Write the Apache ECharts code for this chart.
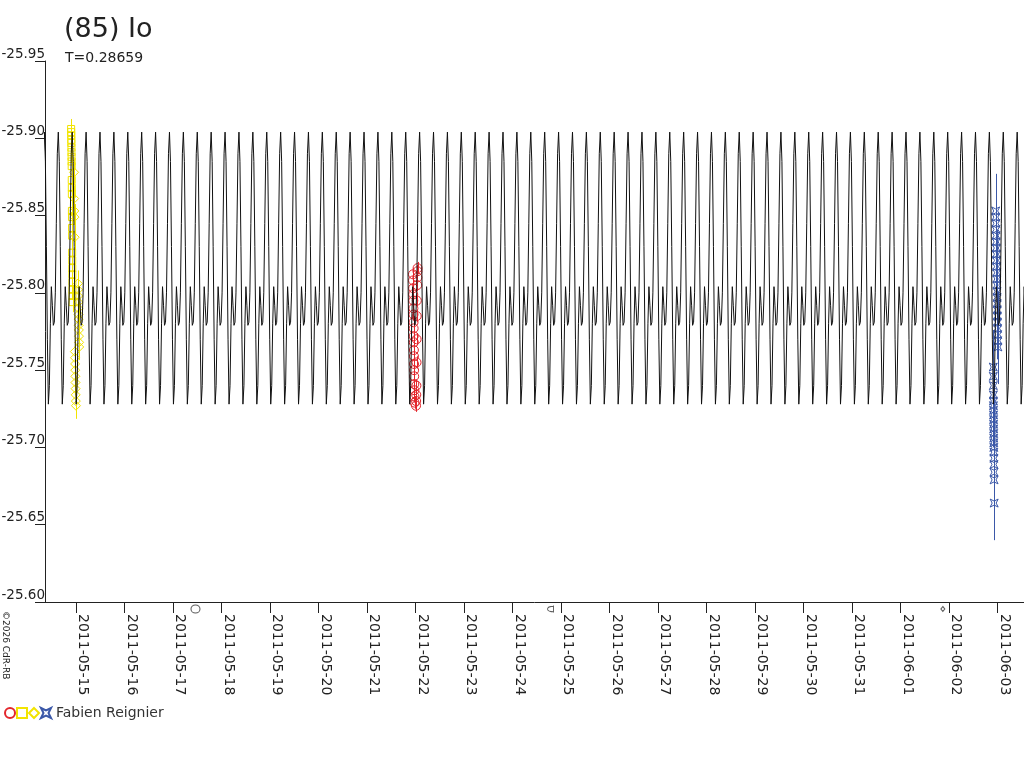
<!DOCTYPE html>
<html><head><meta charset="utf-8">
<script src="https://cdn.jsdelivr.net/npm/echarts@6.0.0/dist/echarts.min.js"></script>
<style>html,body{margin:0;padding:0;background:#fff}#c{width:1024px;height:768px}</style>
</head><body><div id="c"></div>
<script>
// ---- tick labels / axis ----
const xTickLabels = ['2011-05-15','2011-05-16','2011-05-17','2011-05-18','2011-05-19','2011-05-20','2011-05-21',
  '2011-05-22','2011-05-23','2011-05-24','2011-05-25','2011-05-26','2011-05-27','2011-05-28','2011-05-29',
  '2011-05-30','2011-05-31','2011-06-01','2011-06-02','2011-06-03'];
const xStart = '2011-05-14T08:40:00Z';
const xEnd = '2011-06-03T13:13:00Z';
const yMin = -25.95, yMax = -25.60, yStep = 0.05;

// ---- model lightcurve (one rotation), period from the title ----
const modelPeriod = 0.28659; // days
const modelEpoch = '2011-05-14T15:15:00Z'; // a brightest point of the model
const modelCycle = [-25.904,-25.885,-25.830,-25.770,-25.728,-25.740,-25.780,
  -25.804,-25.792,-25.779,-25.781,-25.800,-25.845,-25.890];

// ---- observations (UT hours counted from the night's date) ----
const yellowSquareNight = '2011-05-14';
const yellowSquareHours = [21.60,21.63,21.66,21.69,21.72,21.75,21.78,21.81,21.84,21.87,21.90,21.93,21.96,
  21.99,22.02,22.05,22.08,22.11,22.14,22.17,22.20,22.23,22.26,22.29,22.32];
const yellowSquareMags = [-25.906,-25.904,-25.902,-25.899,-25.897,-25.894,-25.891,-25.888,-25.885,-25.882,
  -25.873,-25.868,-25.864,-25.853,-25.849,-25.842,-25.837,-25.826,-25.821,-25.816,-25.812,-25.807,-25.802,-25.798,-25.794];
const yellowSquareErr = 0.0065;

const yellowDiamondNight = '2011-05-14';
const yellowDiamondHours = [23.05,23.12,23.20,23.27,23.35,
  24.95,25.01,25.07,25.13,25.19,25.25,25.31,25.37,25.43,25.49,25.55,25.61,
  23.45,23.51,23.57,23.63,23.69,23.75,23.81,23.87,23.93,23.99];
const yellowDiamondMags = [-25.878,-25.861,-25.853,-25.849,-25.836,
  -25.806,-25.802,-25.798,-25.794,-25.790,-25.786,-25.783,-25.779,-25.776,-25.772,-25.768,-25.765,
  -25.762,-25.758,-25.754,-25.750,-25.746,-25.742,-25.738,-25.734,-25.730,-25.727];
const yellowDiamondErr = 0.0085;

const redNight = '2011-05-21';
const redHours = [22.80,22.84,22.88,22.92,22.96,23.00,23.04,23.08,23.12,23.16,23.20,23.24,23.28,23.32,23.36,
  23.40,23.44,23.48,23.52,23.56,24.30,24.36,24.42,24.48,24.55,24.60,24.65,24.70,24.90,24.96,25.02,25.08];
const redMags = [-25.812,-25.808,-25.803,-25.799,-25.795,-25.790,-25.786,-25.781,-25.777,-25.772,-25.768,
  -25.763,-25.759,-25.754,-25.750,-25.746,-25.741,-25.737,-25.733,-25.729,-25.727,-25.730,-25.734,-25.740,
  -25.755,-25.770,-25.785,-25.795,-25.805,-25.810,-25.814,-25.816];
const redErr = 0.004;

const blueNight = '2011-06-02';
const blueHours = [22.00,22.02,22.04,22.06,22.08,22.10,22.12,22.14,22.16,22.18,22.20,22.22,22.24,22.26,
  22.28,22.30,22.32,22.34,22.36,22.40,22.45,
  23.20,23.25,23.30,23.35,23.40,23.45,23.50,23.55,23.60,23.65,23.70,23.75,23.80,23.85,23.90,23.95,24.00,
  24.05,24.10,24.15,24.20,24.25,24.30];
const blueMags = [-25.752,-25.746,-25.740,-25.734,-25.730,-25.727,-25.724,-25.721,-25.718,-25.715,-25.712,
  -25.709,-25.706,-25.703,-25.700,-25.697,-25.693,-25.689,-25.684,-25.679,-25.664,
  -25.853,-25.849,-25.845,-25.841,-25.837,-25.833,-25.829,-25.825,-25.821,-25.817,-25.813,-25.809,-25.805,
  -25.801,-25.797,-25.793,-25.789,-25.785,-25.781,-25.777,-25.773,-25.769,-25.765];
const blueErr = 0.024;

// ---- moon phases ----
const moonPhaseTimes = ['2011-05-17T11:09:00Z','2011-05-24T18:52:00Z','2011-06-01T21:03:00Z'];
const moonPhaseNames = ['full','lastQuarter','new'];

// ---- build ----
const DAY = 86400000;
function ts(night, h){ return Date.parse(night + 'T00:00:00Z') + h * 3600000; }
function obs(night, hours, mags, err){ return hours.map((h, i) => [ts(night, h), mags[i], err]); }

const modelData = [];
const ep = Date.parse(modelEpoch);
for (let c = -3; c <= 72; c++) {
  for (let j = 0; j < modelCycle.length; j++) {
    modelData.push([ep + (c + j / modelCycle.length) * modelPeriod * DAY, modelCycle[j]]);
  }
}

const RED = '#e3262c', YEL = '#f2e400', BLU = '#3b58a8';
const starPath = 'path://M0,0 L5,2.5 L10,0 L7.5,5 L10,10 L5,7.5 L0,10 L2.5,5 Z';
const sessions = [
  {name:'Reignier a', color:RED, symbol:'circle', size:9, data:obs(redNight, redHours, redMags, redErr)},
  {name:'Reignier b', color:YEL, symbol:'rect', size:7, data:obs(yellowSquareNight, yellowSquareHours, yellowSquareMags, yellowSquareErr)},
  {name:'Reignier c', color:YEL, symbol:'diamond', size:9, data:obs(yellowDiamondNight, yellowDiamondHours, yellowDiamondMags, yellowDiamondErr)},
  {name:'Reignier d', color:BLU, symbol:starPath, size:8, data:obs(blueNight, blueHours, blueMags, blueErr)}
];

const series = [];
sessions.forEach(s => {
  series.push({
    type:'custom', silent:true, z:2, data:s.data, clip:true,
    renderItem:function(params, api){
      const x = api.value(0), y = api.value(1), e = api.value(2);
      const p1 = api.coord([x, y - e]), p2 = api.coord([x, y + e]);
      const px = Math.round(p1[0]) + 0.5;
      return {type:'line', shape:{x1:px, y1:p1[1], x2:px, y2:p2[1]}, style:{stroke:s.color, lineWidth:1}};
    }
  });
  series.push({
    name:s.name, type:'scatter', z:3, symbol:s.symbol, symbolSize:s.size, data:s.data,
    itemStyle:{color:'rgba(0,0,0,0)', borderColor:s.color, borderWidth:1, opacity:1}
  });
});
series.unshift({
  type:'line', z:4, data:modelData, showSymbol:false, symbol:'none', silent:true,
  lineStyle:{color:'#111', width:1}
});
const moonSymbols = {full:'circle', lastQuarter:'path://M8,0 L8,10 M8,1 A4,4 0 1 0 8,9', 'new':'diamond'};
const moonSizes = {full:[9,8], lastQuarter:[6,7], 'new':[4,5]};
series.push({
  type:'scatter', z:3, silent:true, clip:false,
  data: moonPhaseTimes.map((t, i) => ({value:[Date.parse(t), yMax], symbol:moonSymbols[moonPhaseNames[i]], symbolSize:moonSizes[moonPhaseNames[i]]})),
  symbolOffset:[0, 7],
  itemStyle:{color:'rgba(0,0,0,0)', borderColor:'#333', borderWidth:1}
});

const tickVals = xTickLabels.map(d => Date.parse(d + 'T00:00:00Z'));
const FONT = 'DejaVu Sans';
const chart = echarts.init(document.getElementById('c'), null, {renderer:'canvas'});
chart.setOption({
  animation:false,
  backgroundColor:'#fff',
  textStyle:{fontFamily:FONT},
  title:[
    {text:'(85) Io', left:64, top:16, padding:0, textStyle:{fontFamily:FONT, fontSize:27, fontWeight:'normal', color:'#222'}},
    {text:'T=0.28659', left:65, top:51, padding:0, textStyle:{fontFamily:FONT, fontSize:14, fontWeight:'normal', color:'#222'}}
  ],
  legend:{
    left:4, top:706, itemWidth:10, itemHeight:10, itemGap:0, padding:0,
    data:sessions.map(s => s.name),
    formatter:function(n){ return n === 'Reignier d' ? 'Fabien Reignier' : ''; },
    textStyle:{fontFamily:FONT, fontSize:14, color:'#333', padding:[0,0,0,0]},
    selectedMode:false
  },
  grid:{left:45, right:0, top:61, bottom:166, containLabel:false, outerBoundsMode:'none'},
  xAxis:{
    type:'value', min:Date.parse(xStart), max:Date.parse(xEnd), scale:true,
    axisLine:{show:true, lineStyle:{color:'#222', width:1}},
    axisTick:{show:true, length:11, customValues:tickVals, lineStyle:{color:'#222'}},
    axisLabel:{customValues:tickVals, rotate:-90, margin:12, verticalAlign:'bottom', color:'#222', fontFamily:FONT, fontSize:14,
      formatter:function(v){ return new Date(v).toISOString().slice(0,10); }},
    splitLine:{show:false}
  },
  yAxis:{
    type:'value', inverse:true, min:yMin, max:yMax, interval:yStep,
    axisLine:{show:true, lineStyle:{color:'#222', width:1}},
    axisTick:{show:true, length:10, lineStyle:{color:'#222'}},
    axisLabel:{margin:0, verticalAlign:'bottom', lineHeight:14, color:'#222', fontFamily:FONT, fontSize:13.5,
      formatter:function(v){ return v.toFixed(2); }},
    splitLine:{show:false}
  },
  graphic:[{type:'text', x:10, y:611, rotation:-Math.PI/2,
    style:{text:'©2026 CdR-RB', fill:'#222', font:'9px DejaVu Sans', textAlign:'left', textVerticalAlign:'top'}}],
  series:series
});
</script>
</body></html>
